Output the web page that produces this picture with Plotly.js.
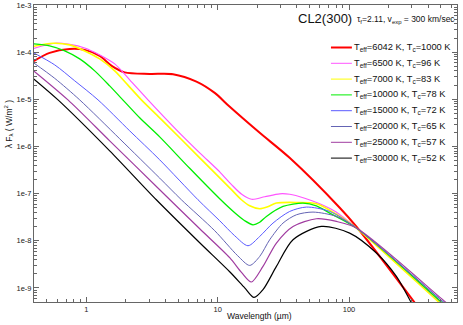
<!DOCTYPE html>
<html>
<head>
<meta charset="utf-8">
<script src="https://cdn.plot.ly/plotly-3.0.1.min.js"></script>
<style>
  body { margin: 0; background: #fff; }
  #plot { width: 463px; height: 325px; }
</style>
</head>
<body>
<div id="plot"></div>
<script>
// wavelength (micron) and lambda*F_lambda (W/m^2)
const wl6042 = [0.397, 0.525, 0.746, 0.971, 1.263, 1.558, 1.957, 3.03, 4.57, 6.89, 9.49, 12.3, 20.9, 35.3, 85, 114, 311, 345];
const f6042 = [6.5e-5, 9.7e-5, 1.17e-4, 1.12e-4, 8.35e-5, 5.13e-5, 3.73e-5, 3.47e-5, 3.42e-5, 2.38e-5, 1.37e-5, 7.04e-6, 1.95e-6, 5.76e-7, 5.03e-8, 1.99e-8, 5.2e-10, 3.5e-10];

const wl6500 = [0.397, 0.574, 0.746, 0.971, 1.263, 1.643, 2.137, 2.945, 4.85, 7.295, 10.36, 12.79, 15.23, 18.16, 22.8, 29.67, 35.35, 45.98, 59.83, 79.2, 113.9, 490.6, 696.8];
const f6500 = [1.2e-4, 1.55e-4, 1.46e-4, 1.23e-4, 8.76e-5, 5.65e-5, 2.59e-5, 9.76e-6, 2.26e-6, 7.35e-7, 2.91e-7, 1.54e-7, 9.71e-8, 7.61e-8, 8.6e-8, 9.95e-8, 9.71e-8, 7.99e-8, 6.11e-8, 4.13e-8, 1.87e-8, 5.2e-10, 2.35e-10];

const wl7000 = [0.397, 0.557, 0.746, 0.971, 1.263, 1.643, 2.063, 2.624, 3.617, 7.295, 12.34, 15.16, 17.53, 20.89, 24.03, 28.0, 39.77, 56.46, 79.2, 113.9, 476.3, 696.8];
const f7000 = [1.33e-4, 1.55e-4, 1.43e-4, 1.065e-4, 7.21e-5, 4.02e-5, 2.03e-5, 9.76e-6, 4.06e-6, 5.76e-7, 1.33e-7, 7.43e-8, 5.54e-8, 4.79e-8, 5.28e-8, 6.32e-8, 6.51e-8, 6.11e-8, 3.75e-8, 1.87e-8, 5.2e-10, 2.03e-10];

const wl10000 = [0.397, 0.525, 0.684, 0.889, 1.157, 1.505, 1.957, 2.546, 3.617, 6.12, 10.36, 13.48, 16.06, 18.57, 20.89, 23.49, 31.43, 44.63, 56.46, 71.29, 113.9, 499.3, 696.8];
const f10000 = [1.5e-4, 1.36e-4, 1.065e-4, 7.21e-5, 4.02e-5, 1.93e-5, 8.85e-6, 4.06e-6, 1.6e-6, 3.45e-7, 7.8e-8, 3.94e-8, 2.67e-8, 2.19e-8, 2.48e-8, 3.29e-8, 5.36e-8, 6.32e-8, 5.54e-8, 3.88e-8, 1.87e-8, 5.2e-10, 2.35e-10];

const wl15000 = [0.397, 0.574, 0.815, 1.226, 2.137, 3.617, 7.08, 10.36, 13.48, 17.01, 20.89, 26.37, 35.35, 47.38, 71.29, 113.9, 517.1, 696.8];
const f15000 = [9.67e-5, 5.38e-5, 2.47e-5, 9.76e-6, 2.15e-6, 5.23e-7, 7.43e-8, 2.67e-8, 1.28e-8, 7.87e-9, 1.24e-8, 2.38e-8, 4.2e-8, 5.2e-8, 4.2e-8, 1.87e-8, 5.2e-10, 2.59e-10];

const wl20000 = [0.397, 0.574, 0.889, 1.793, 3.617, 5.29, 9.49, 14.2, 17.53, 20.89, 24.89, 31.43, 39.77, 53.19, 80.18, 113.9, 517.1, 696.8];
const f20000 = [5.93e-5, 2.79e-5, 9.76e-6, 1.46e-6, 2.14e-7, 7.43e-8, 1.64e-8, 4.83e-9, 3.01e-9, 4.67e-9, 1.055e-8, 2.38e-8, 3.57e-8, 4.07e-8, 3.29e-8, 1.87e-8, 5.2e-10, 2.72e-10];

const wl25000 = [0.397, 0.724, 1.505, 3.617, 7.295, 12.34, 15.23, 18.06, 22.13, 28.0, 37.46, 56.46, 80.18, 113.9, 535.6, 696.8];
const f25000 = [4.02e-5, 9.76e-6, 1.32e-6, 1.21e-7, 1.8e-8, 4.39e-9, 2.11e-9, 1.34e-9, 2.87e-9, 8.98e-9, 2.02e-8, 2.94e-8, 2.58e-8, 1.87e-8, 5.2e-10, 2.85e-10];

const wl30000 = [0.397, 0.608, 1.505, 3.41, 7.295, 12.34, 16.06, 18.9, 22.13, 28.0, 37.46, 61.65, 101.2, 161.7, 229.6, 289.9, 333.7];
const f30000 = [2.72e-5, 9.76e-6, 8.11e-7, 7.43e-8, 9.11e-9, 2.21e-9, 1.01e-9, 6.32e-10, 9.2e-10, 2.87e-9, 1.055e-8, 2.02e-8, 1.46e-8, 5.51e-9, 1.76e-9, 5.65e-10, 2.72e-10];

const legendLabels = [
    'T<sub>eff</sub>=6042 K, T<sub>c</sub>=1000 K',
    'T<sub>eff</sub>=6500 K, T<sub>c</sub>=96 K',
    'T<sub>eff</sub>=7000 K, T<sub>c</sub>=83 K',
    'T<sub>eff</sub>=10000 K, T<sub>c</sub>=78 K',
    'T<sub>eff</sub>=15000 K, T<sub>c</sub>=72 K',
    'T<sub>eff</sub>=20000 K, T<sub>c</sub>=65 K',
    'T<sub>eff</sub>=25000 K, T<sub>c</sub>=57 K',
    'T<sub>eff</sub>=30000 K, T<sub>c</sub>=52 K'
];
const yTickVals = [1e-9, 1e-8, 1e-7, 1e-6, 1e-5, 1e-4, 1e-3];
const yTickText = ['1e-9', '1e-8', '1e-7', '1e-6', '1e-5', '1e-4', '1e-3'];
const xTickVals = [1, 10, 100];
const xTickText = ['1', '10', '100'];

const series = [
    [wl6042, f6042], [wl6500, f6500], [wl7000, f7000], [wl10000, f10000],
    [wl15000, f15000], [wl20000, f20000], [wl25000, f25000], [wl30000, f30000]
];
const colors = ['#ff0000', '#ff55ff', '#ffff00', '#00ee00', '#5a5aff', '#6464b4', '#a03ca0', '#000000'];
const widths = [2, 1.2, 1.6, 1.3, 1, 1, 1.2, 1.2];

const FONT = 'Liberation Sans, Arial, sans-serif';

const traces = series.map((s, i) => ({
    x: s[0],
    y: s[1],
    mode: 'lines',
    type: 'scatter',
    name: legendLabels[i],
    line: { color: colors[i], width: widths[i], shape: 'spline', smoothing: 0.8 },
    showlegend: false
}));

// hand-made legend, the plotly one is too tall for this spacing
const shapes = [];
const annotations = [];
legendLabels.forEach((lab, i) => {
    const yp = (302 - (47.5 + i * 15.8)) / 297;
    shapes.push({
        type: 'line', xref: 'paper', yref: 'paper',
        x0: 0.702, x1: 0.7515, y0: yp, y1: yp,
        line: { color: colors[i], width: i === 0 ? 2 : 1 }
    });
    annotations.push({
        xref: 'paper', yref: 'paper', x: 0.7525, y: yp,
        xanchor: 'left', yanchor: 'middle', showarrow: false,
        text: lab, font: { family: FONT, size: 9.3, color: '#111' }
    });
});

annotations.push({
    xref: 'paper', yref: 'paper', x: 0.62, y: 0.956,
    xanchor: 'left', yanchor: 'middle', showarrow: false,
    text: 'CL2(300)', font: { family: FONT, size: 13, color: '#111' }
});
annotations.push({
    xref: 'paper', yref: 'paper', x: 0.759, y: 0.952,
    xanchor: 'left', yanchor: 'middle', showarrow: false,
    text: '\u03c4<sub>f</sub>=2.11, v<sub>exp</sub> = 300 km/sec',
    font: { family: FONT, size: 8.5, color: '#111' }
});
annotations.push({
    xref: 'paper', yref: 'paper', x: 0.532, y: -0.047,
    xanchor: 'center', yanchor: 'middle', showarrow: false,
    text: 'Wavelength (\u00b5m)', font: { family: FONT, size: 8.5, color: '#111' }
});
annotations.push({
    xref: 'paper', yref: 'paper', x: -0.061, y: 0.599,
    xanchor: 'center', yanchor: 'middle', showarrow: false, textangle: -90,
    text: '\u03bb F<sub>\u03bb</sub> ( W/m<sup>2</sup> )',
    font: { family: FONT, size: 8.5, color: '#111' }
});

const axisCommon = {
    type: 'log',
    tickmode: 'array',
    ticks: 'inside',
    ticklen: 5,
    tickcolor: '#666',
    showline: true,
    linecolor: '#666',
    linewidth: 1,
    mirror: 'allticks',
    showgrid: false,
    zeroline: false,
    tickfont: { family: FONT, size: 7.5, color: '#222' },
    minor: { ticks: 'inside', ticklen: 3, tickcolor: '#666', dtick: 'D1', showgrid: false }
};

const layout = {
    width: 463,
    height: 325,
    margin: { l: 34, r: 6, t: 5, b: 23 },
    paper_bgcolor: '#fff',
    plot_bgcolor: '#fff',
    showlegend: false,
    xaxis: Object.assign({}, axisCommon, {
        range: [-0.399, 2.8225],
        tickvals: xTickVals,
        ticktext: xTickText
    }),
    yaxis: Object.assign({}, axisCommon, {
        range: [-9.297, -2.999],
        tickvals: yTickVals,
        ticktext: yTickText
    }),
    shapes: shapes,
    annotations: annotations
};

Plotly.newPlot('plot', traces, layout, { staticPlot: true, displayModeBar: false });
</script>
</body>
</html>
